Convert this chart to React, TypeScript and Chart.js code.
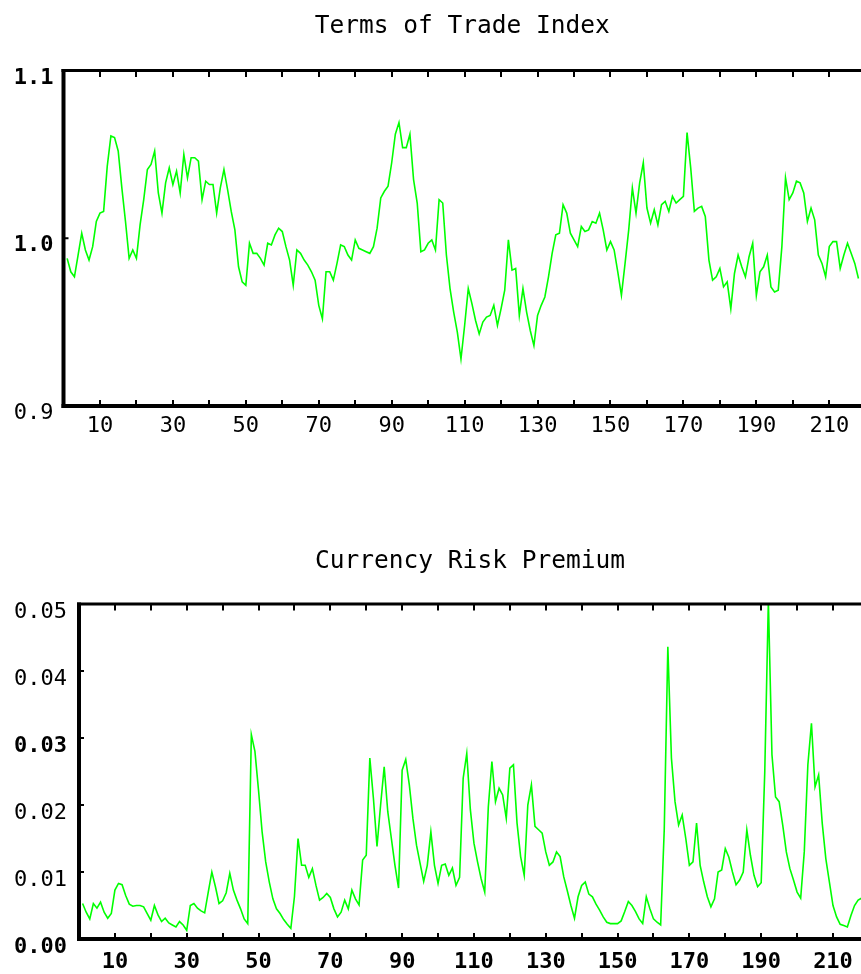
import React, { useEffect, useRef } from 'react';
import { Chart, registerables } from 'chart.js';

Chart.register(...registerables);

const TOT_TITLE = 'Terms of Trade Index';
const CRP_TITLE = 'Currency Risk Premium';

// Terms of Trade Index, periods 1..218
const TOT_VALUES = [
  0.988, 0.980, 0.977, 0.990, 1.003, 0.993, 0.987, 0.995, 1.010, 1.015,
  1.016, 1.043, 1.061, 1.060, 1.052, 1.030, 1.010, 0.988, 0.993, 0.988,
  1.008, 1.023, 1.041, 1.044, 1.052, 1.027, 1.015, 1.033, 1.042, 1.032,
  1.040, 1.027, 1.050, 1.036, 1.048, 1.048, 1.046, 1.023, 1.034, 1.032,
  1.032, 1.015, 1.030, 1.041, 1.029, 1.016, 1.005, 0.983, 0.974, 0.972,
  0.997, 0.991, 0.991, 0.988, 0.984, 0.997, 0.996, 1.002, 1.006, 1.004,
  0.995, 0.987, 0.972, 0.993, 0.991, 0.987, 0.984, 0.980, 0.975, 0.960,
  0.952, 0.980, 0.980, 0.975, 0.985, 0.996, 0.995, 0.990, 0.987, 0.999,
  0.994, 0.993, 0.992, 0.991, 0.995, 1.006, 1.024, 1.028, 1.031, 1.045,
  1.062, 1.069, 1.054, 1.054, 1.062, 1.035, 1.021, 0.992, 0.993, 0.997,
  0.999, 0.993, 1.023, 1.021, 0.990, 0.970, 0.956, 0.944, 0.928, 0.948,
  0.970, 0.961, 0.951, 0.943, 0.950, 0.953, 0.954, 0.960, 0.948, 0.958,
  0.969, 0.999, 0.981, 0.982, 0.954, 0.970,
  0.956, 0.945, 0.936, 0.954, 0.960, 0.965, 0.977, 0.991, 1.002, 1.003,
  1.020, 1.015, 1.003, 0.999, 0.995, 1.007, 1.004, 1.005, 1.010, 1.009,
  1.015, 1.005, 0.993, 0.998, 0.993, 0.980, 0.966, 0.985, 1.005, 1.030,
  1.015, 1.033, 1.045, 1.018, 1.009, 1.017, 1.008, 1.020, 1.022, 1.016,
  1.025, 1.021, 1.023, 1.025, 1.063, 1.042, 1.016, 1.018, 1.019, 1.013,
  0.987, 0.975, 0.977, 0.982, 0.971, 0.974, 0.958, 0.979, 0.990, 0.983,
  0.977, 0.989, 0.997, 0.966, 0.980, 0.983, 0.990, 0.971, 0.968, 0.969,
  0.995, 1.036, 1.023, 1.027, 1.034,
  1.033, 1.027, 1.010, 1.018, 1.011, 0.990, 0.985, 0.977, 0.995, 0.998,
  0.998, 0.982, 0.990, 0.997, 0.991, 0.985, 0.976,
];

// Currency Risk Premium, periods 1..218
const CRP_VALUES = [
  0.0053, 0.0040, 0.0030, 0.0053, 0.0046, 0.0055, 0.0040, 0.0031, 0.0038, 0.0073,
  0.0083, 0.0081, 0.0065, 0.0052, 0.0049, 0.0050, 0.0050, 0.0048, 0.0038, 0.0028,
  0.0050, 0.0036, 0.0026, 0.0031, 0.0024, 0.0021, 0.0018, 0.0026, 0.0021, 0.0013,
  0.0050, 0.0053, 0.0046, 0.0042, 0.0039, 0.0070, 0.0100, 0.0078, 0.0053, 0.0057,
  0.0069, 0.0098, 0.0073, 0.0058, 0.0045, 0.0030, 0.0023, 0.0305, 0.0280, 0.0222,
  0.0160, 0.0115, 0.0085, 0.0060, 0.0045, 0.0038, 0.0029, 0.0022, 0.0016, 0.0063,
  0.0150, 0.0110, 0.0110, 0.0092, 0.0105, 0.0080, 0.0058, 0.0062, 0.0068, 0.0062,
  0.0045, 0.0033, 0.0040, 0.0058, 0.0045, 0.0073, 0.0060, 0.0051, 0.0118, 0.0125,
  0.0270, 0.0210, 0.0138, 0.0200, 0.0257, 0.0190, 0.0150, 0.0110, 0.0076, 0.0252,
  0.0268, 0.0230, 0.0180, 0.0140, 0.0113, 0.0086, 0.0110, 0.0160, 0.0110, 0.0083,
  0.0110, 0.0112, 0.0095, 0.0106, 0.0080, 0.0092, 0.0240, 0.0277, 0.0193, 0.0143,
  0.0115, 0.0090, 0.0070, 0.0197, 0.0265, 0.0205, 0.0225, 0.0215, 0.0180, 0.0255,
  0.0260, 0.0173, 0.0123, 0.0095, 0.0200, 0.0230, 0.0168, 0.0163, 0.0158, 0.0130,
  0.0110, 0.0115, 0.0130, 0.0123, 0.0093, 0.0072, 0.0050, 0.0031, 0.0063, 0.0080,
  0.0085, 0.0067, 0.0063, 0.0052, 0.0043, 0.0033, 0.0025, 0.0023, 0.0023, 0.0023,
  0.0027, 0.0041, 0.0056, 0.0050, 0.0041, 0.0030, 0.0023, 0.0063, 0.0045, 0.0030,
  0.0025, 0.0021, 0.0163, 0.0436, 0.0270, 0.0205, 0.0170, 0.0185, 0.0150, 0.0110,
  0.0115, 0.0173, 0.0110, 0.0085, 0.0063, 0.0048, 0.0060, 0.0100, 0.0103, 0.0135,
  0.0122, 0.0100, 0.0081, 0.0088, 0.0100, 0.0163, 0.0125, 0.0095, 0.0078, 0.0084,
  0.0250, 0.0505, 0.0275, 0.0212, 0.0205, 0.0170, 0.0130, 0.0105, 0.0088, 0.0070,
  0.0061, 0.0130, 0.0260, 0.0322, 0.0227, 0.0245, 0.0173, 0.0120, 0.0085, 0.0050,
  0.0033, 0.0022, 0.0020, 0.0018, 0.0035, 0.0050, 0.0058, 0.0061,
];

const X_TICK_LABELS = [10, 30, 50, 70, 90, 110, 130, 150, 170, 190, 210];
const X_TICK_MARKS = [10, 20, 30, 40, 50, 60, 70, 80, 90, 100, 110, 120, 130, 140, 150, 160, 170, 180, 190, 200, 210];
const TOT_Y_TICKS = [0.9, 1.0, 1.1];
const CRP_Y_TICKS = [0.0, 0.01, 0.02, 0.03, 0.04, 0.05];

const FONT = "'DejaVu Sans Mono', monospace";

const framePlugin = {
  id: 'frameTicks',
  afterDraw(chart: any) {
    const { ctx, chartArea: a, scales } = chart;
    const xs = scales.x;
    const ys = scales.y;
    ctx.save();
    ctx.strokeStyle = '#000';
    ctx.lineCap = 'butt';
    ctx.lineWidth = 4;
    ctx.beginPath();
    ctx.moveTo(a.left, a.top - 1.5);
    ctx.lineTo(a.left, a.bottom + 2);
    ctx.stroke();
    ctx.beginPath();
    ctx.moveTo(a.left - 2, a.bottom);
    ctx.lineTo(a.right + 2, a.bottom);
    ctx.stroke();
    ctx.lineWidth = 3;
    ctx.beginPath();
    ctx.moveTo(a.left - 2, a.top);
    ctx.lineTo(a.right + 2, a.top);
    ctx.stroke();
    ctx.lineWidth = 2;
    xs.ticks.forEach((t: any) => {
      const px = Math.round(xs.getPixelForValue(t.value));
      if (px > a.right || px <= a.left) return;
      ctx.beginPath();
      ctx.moveTo(px, a.top);
      ctx.lineTo(px, a.top + 6.5);
      ctx.moveTo(px, a.bottom);
      ctx.lineTo(px, a.bottom - 6);
      ctx.stroke();
    });
    ys.ticks.forEach((t: any) => {
      const py = ys.getPixelForValue(t.value);
      if (py <= a.top + 2 || py >= a.bottom - 2) return;
      ctx.beginPath();
      ctx.moveTo(a.left, py);
      ctx.lineTo(a.left + 5, py);
      ctx.stroke();
    });
    ctx.restore();
  },
};

function makeConfig(opts: any) {
  const { values, title, titlePad, yMin, yMax, yTicks, decimals, xMax, yWidth, xHeight, yPad, xPad, yLabelOffset, boldY, boldX } = opts;
  return {
    type: 'line',
    data: {
      datasets: [
        {
          data: values.map((v: number, i: number) => ({ x: i + 1, y: v })),
          borderColor: '#00ff00',
          borderWidth: 1.6,
          pointRadius: 0,
          tension: 0,
          fill: false,
        },
      ],
    },
    options: {
      responsive: false,
      animation: false,
      devicePixelRatio: 1,
      layout: { padding: 0 },
      plugins: {
        legend: { display: false },
        tooltip: { enabled: false },
        title: {
          display: true,
          text: title,
          fullSize: false,
          color: '#000',
          font: { family: FONT, size: 24.5, weight: 'normal', lineHeight: 1.2 },
          padding: titlePad,
        },
      },
      scales: {
        x: {
          type: 'linear',
          min: 0,
          max: xMax,
          afterBuildTicks: (s: any) => {
            s.ticks = X_TICK_MARKS.map((v: number) => ({ value: v }));
          },
          afterFit: (s: any) => {
            s.height = xHeight;
            s.paddingLeft = 0;
            s.paddingRight = 0;
          },
          grid: { display: false, drawTicks: false },
          border: { display: false },
          ticks: {
            autoSkip: false,
            maxRotation: 0,
            padding: xPad,
            color: '#000',
            font: { family: FONT, size: 22, weight: boldX ? 'bold' : 'normal' },
            callback: (v: number) => (X_TICK_LABELS.includes(v) ? String(v) : ''),
          },
        },
        y: {
          type: 'linear',
          min: yMin,
          max: yMax,
          afterBuildTicks: (s: any) => {
            s.ticks = yTicks.map((v: number) => ({ value: v }));
          },
          afterFit: (s: any) => {
            s.width = yWidth;
            s.paddingTop = 0;
            s.paddingBottom = 0;
          },
          grid: { display: false, drawTicks: false },
          border: { display: false },
          ticks: {
            padding: yPad,
            labelOffset: yLabelOffset,
            color: '#000',
            font: (c: any) => {
              const v = c.tick ? c.tick.value : null;
              const isBold = v !== null && boldY.some((b: number) => Math.abs(b - v) < 1e-9);
              return { family: FONT, size: 22, weight: isBold ? 'bold' : 'normal' };
            },
            callback: (v: number) => Number(v).toFixed(decimals),
          },
        },
      },
    },
    plugins: [framePlugin],
  };
}

export default function App() {
  const topRef = useRef<HTMLCanvasElement>(null);
  const botRef = useRef<HTMLCanvasElement>(null);

  useEffect(() => {
    const top = new Chart(
      topRef.current as HTMLCanvasElement,
      makeConfig({
        values: TOT_VALUES,
        title: TOT_TITLE,
        titlePad: { top: 12, bottom: 29.1 },
        yMin: 0.9,
        yMax: 1.1,
        yTicks: TOT_Y_TICKS,
        decimals: 1,
        xMax: 218.7,
        yWidth: 63.5,
        xHeight: 44,
        yPad: 10,
        xPad: 7,
        yLabelOffset: 7.5,
        boldY: [1.1, 1.0],
        boldX: false,
      }) as any
    );
    const bot = new Chart(
      botRef.current as HTMLCanvasElement,
      makeConfig({
        values: CRP_VALUES,
        title: CRP_TITLE,
        titlePad: { top: 16.7, bottom: 27.9 },
        yMin: 0,
        yMax: 0.05,
        yTicks: CRP_Y_TICKS,
        decimals: 2,
        xMax: 217.8,
        yWidth: 79,
        xHeight: 35,
        yPad: 12,
        xPad: 10,
        yLabelOffset: 8.5,
        boldY: [0.0, 0.03],
        boldX: true,
      }) as any
    );
    return () => {
      top.destroy();
      bot.destroy();
    };
  }, []);

  return (
    <div style={{ position: 'absolute', left: 0, top: 0, width: 861, height: 974, background: '#fff', overflow: 'hidden' }}>
      <canvas ref={topRef} width={861} height={450} style={{ position: 'absolute', left: 0, top: 0, width: 861, height: 450 }} />
      <canvas ref={botRef} width={861} height={444} style={{ position: 'absolute', left: 0, top: 530, width: 861, height: 444 }} />
    </div>
  );
}
